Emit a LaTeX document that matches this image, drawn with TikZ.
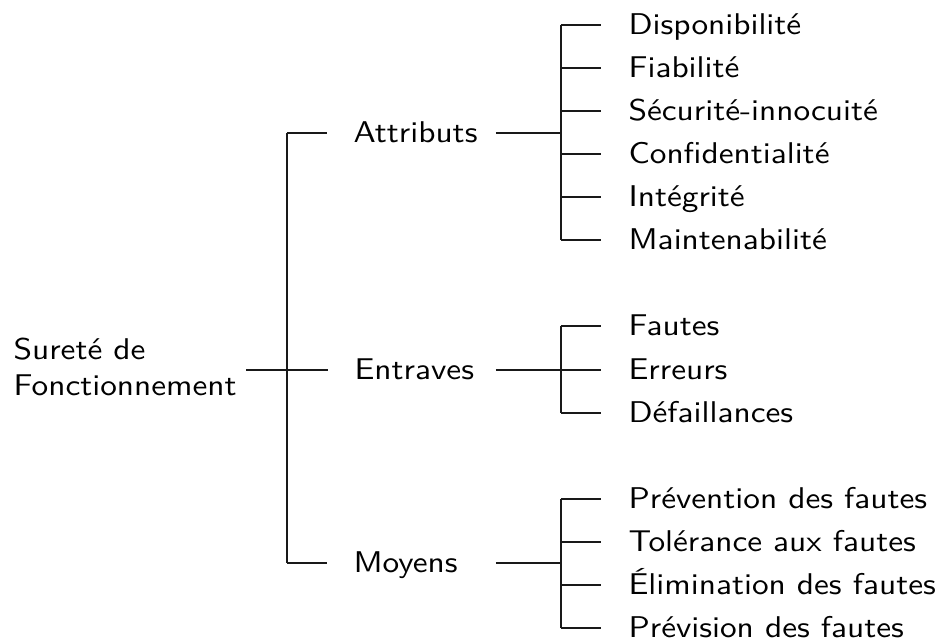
\documentclass[tikz,border=0pt]{standalone}
% slightly widened sans-serif labels
\newcommand{\wtxt}[1]{\scalebox{1.11}[1]{#1}}
\begin{document}
\begin{tikzpicture}[x=0.3333pt,y=-0.3333pt,
  txt/.style={font=\sffamily\fontsize{10}{12}\selectfont, inner sep=0pt},
  lbl/.style={txt, anchor=west, text height=7pt, text depth=0.4pt},
  link/.style={line width=0.6pt, draw=black!90}]
\useasboundingbox (0,0) rectangle (943,642);

% root
\node[txt, align=left, anchor=north west] (root) at (13,337)
  {\wtxt{Sureté de}\\\wtxt{Fonctionnement}};

% first level
\node[lbl] (attr) at (353,133) {\wtxt{Attributs}};
\node[lbl] (entr) at (354,370) {\wtxt{Entraves}};
\node[lbl] (moy)  at (353,563) {\wtxt{Moyens}};

% second level
\node[lbl] (a1) at (628,25)  {\wtxt{Disponibilité}};
\node[lbl] (a2) at (628,68)  {\wtxt{Fiabilité}};
\node[lbl] (a3) at (628,111) {\wtxt{Sécurité-innocuité}};
\node[lbl] (a4) at (628,154) {\wtxt{Confidentialité}};
\node[lbl] (a5) at (628,197) {\wtxt{Intégrité}};
\node[lbl] (a6) at (628,240) {\wtxt{Maintenabilité}};

\node[lbl] (e1) at (628,326) {\wtxt{Fautes}};
\node[lbl] (e2) at (628,370) {\wtxt{Erreurs}};
\node[lbl] (e3) at (628,413) {\wtxt{Défaillances}};

\node[lbl] (m1) at (628,499) {\wtxt{Prévention des fautes}};
\node[lbl] (m2) at (628,542) {\wtxt{Tolérance aux fautes}};
\node[lbl] (m3) at (628,585) {\wtxt{Élimination des fautes}};
\node[lbl] (m4) at (628,628) {\wtxt{Prévision des fautes}};

% bracket columns
\coordinate (trunk) at (287,0);
\coordinate (out)   at (496,0);
\coordinate (sub)   at (561,0);

% root bracket
\draw[link, shorten <=3pt, shorten >=8.7pt] (root.east |- entr.west) -- (entr.west);
\draw[link] (trunk |- attr.west) -- (trunk |- moy.west);
\draw[link, shorten >=8.7pt] (trunk |- attr.west) -- (attr.west);
\draw[link, shorten >=8.7pt] (trunk |- moy.west) -- (moy.west);

% sub brackets
\draw[link] (out |- attr.west) -- (sub |- attr.west);
\draw[link] (out |- entr.west) -- (sub |- entr.west);
\draw[link] (out |- moy.west)  -- (sub |- moy.west);

\draw[link] (sub |- a1.west) -- (sub |- a6.west);
\draw[link] (sub |- e1.west) -- (sub |- e3.west);
\draw[link] (sub |- m1.west) -- (sub |- m4.west);

\foreach \leaf in {a1,a2,a3,a4,a5,a6,e1,e2,e3,m1,m2,m3,m4}
  \draw[link, shorten >=9pt] (sub |- \leaf.west) -- (\leaf.west);
\end{tikzpicture}
\end{document}
